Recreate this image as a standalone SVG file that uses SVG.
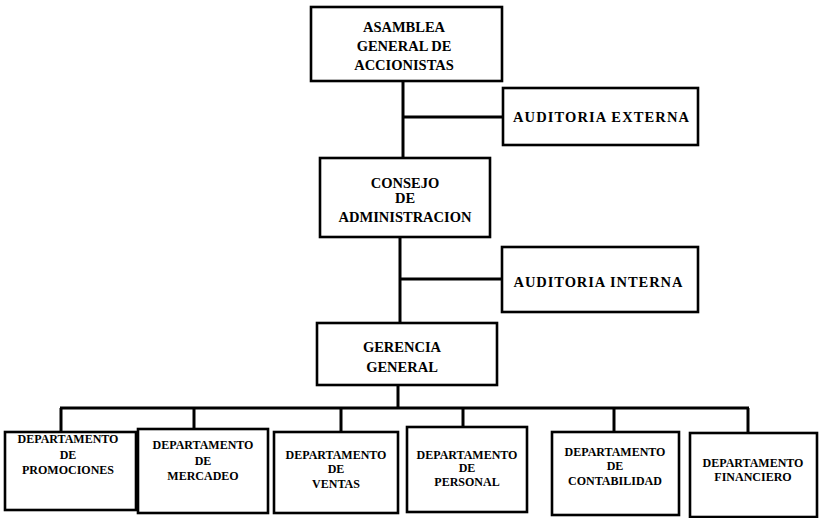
<svg xmlns="http://www.w3.org/2000/svg" width="820" height="518" viewBox="0 0 820 518">
<style>
.box{fill:#fff;stroke:#000;stroke-width:2.6}
.t{font-family:"Liberation Serif","Times New Roman",serif;font-weight:bold;font-size:14.5px;text-anchor:middle;fill:#000}
.s{font-family:"Liberation Serif","Times New Roman",serif;font-weight:bold;font-size:12px;text-anchor:middle;fill:#000}
.c{stroke:#000;stroke-width:3;fill:none}
</style>
<rect width="820" height="518" fill="#fff"/>
<g id="connectors">
<line class="c" x1="403" y1="81" x2="403" y2="158"/>
<line class="c" x1="403" y1="117" x2="503" y2="117"/>
<line class="c" x1="400" y1="237" x2="400" y2="323"/>
<line class="c" x1="400" y1="279" x2="502" y2="279"/>
<line class="c" x1="398" y1="385" x2="398" y2="408"/>
<line class="c" x1="60" y1="408" x2="749" y2="408"/>
<line class="c" x1="61" y1="408" x2="61" y2="432"/>
<line class="c" x1="194" y1="408" x2="194" y2="429"/>
<line class="c" x1="341" y1="408" x2="341" y2="432"/>
<line class="c" x1="463" y1="408" x2="463" y2="427"/>
<line class="c" x1="614" y1="408" x2="614" y2="432"/>
<line class="c" x1="748" y1="408" x2="748" y2="433"/>
</g>
<g id="asamblea">
<rect class="box" x="311" y="7" width="191" height="74"/>
<text class="t" x="404" y="32">ASAMBLEA</text>
<text class="t" x="404" y="51">GENERAL DE</text>
<text class="t" x="404" y="70">ACCIONISTAS</text>
</g>
<g id="auditoria-externa">
<rect class="box" x="503" y="88" width="195" height="57"/>
<text class="t" x="601" y="122" textLength="176" lengthAdjust="spacing">AUDITORIA  EXTERNA</text>
</g>
<g id="consejo">
<rect class="box" x="320" y="158" width="170" height="79"/>
<text class="t" x="405" y="188">CONSEJO</text>
<text class="t" x="405" y="203">DE</text>
<text class="t" x="405" y="222">ADMINISTRACION</text>
</g>
<g id="auditoria-interna">
<rect class="box" x="502" y="247" width="196" height="65"/>
<text class="t" x="598" y="287" textLength="169" lengthAdjust="spacing">AUDITORIA INTERNA</text>
</g>
<g id="gerencia">
<rect class="box" x="317" y="323" width="180" height="62"/>
<text class="t" x="402" y="352">GERENCIA</text>
<text class="t" x="402" y="372">GENERAL</text>
</g>
<g id="dep-promociones">
<rect class="box" x="5" y="432" width="131" height="78"/>
<text class="s" x="68" y="443">DEPARTAMENTO</text>
<text class="s" x="68" y="459">DE</text>
<text class="s" x="68" y="474">PROMOCIONES</text>
</g>
<g id="dep-mercadeo">
<rect class="box" x="138" y="429" width="130" height="84"/>
<text class="s" x="203" y="449">DEPARTAMENTO</text>
<text class="s" x="203" y="465">DE</text>
<text class="s" x="203" y="480">MERCADEO</text>
</g>
<g id="dep-ventas">
<rect class="box" x="274" y="432" width="124" height="81"/>
<text class="s" x="336" y="459">DEPARTAMENTO</text>
<text class="s" x="336" y="473">DE</text>
<text class="s" x="336" y="488">VENTAS</text>
</g>
<g id="dep-personal">
<rect class="box" x="407" y="427" width="120" height="85"/>
<text class="s" x="467" y="459">DEPARTAMENTO</text>
<text class="s" x="467" y="472">DE</text>
<text class="s" x="467" y="486">PERSONAL</text>
</g>
<g id="dep-contabilidad">
<rect class="box" x="552" y="432" width="127" height="83"/>
<text class="s" x="615" y="456">DEPARTAMENTO</text>
<text class="s" x="615" y="470">DE</text>
<text class="s" x="615" y="485">CONTABILIDAD</text>
</g>
<g id="dep-financiero">
<rect class="box" x="690" y="433" width="127" height="84"/>
<text class="s" x="753" y="467">DEPARTAMENTO</text>
<text class="s" x="753" y="481">FINANCIERO</text>
</g>
</svg>
